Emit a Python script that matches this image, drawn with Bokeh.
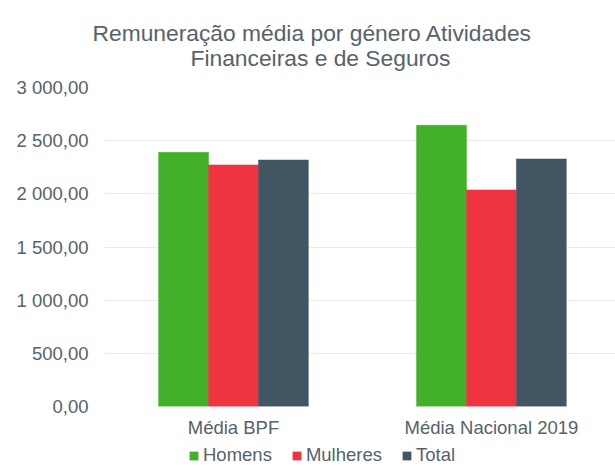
from bokeh.plotting import figure
from bokeh.layouts import column
from bokeh.models import (ColumnDataSource, Range1d, FixedTicker, Legend, LegendItem, Title)
from bokeh.embed import file_html
from bokeh.resources import INLINE

# ---- data ----
categories = ["Média BPF", "Média Nacional 2019"]
series_names = ["Homens", "Mulheres", "Total"]
homens = [2390, 2645]
mulheres = [2272, 2037]
total = [2318, 2328]
y_ticks = [0, 500, 1000, 1500, 2000, 2500, 3000]
title_lines = ["Remuneração média por género Atividades", "Financeiras e de Seguros"]

colors = ["#43b02a", "#ef3340", "#425563"]
text_color = "#56626c"
grid_color = "#e6ebee"
FONT = "Liberation Sans"

def fmt(v):
    return f"{v:,.2f}".replace(",", " ").replace(".", ",")

centers = [i + 0.5 for i in range(len(categories))]
bar_w = 0.1935

p = figure(width=615, height=442, output_backend="svg", toolbar_location=None,
           x_range=Range1d(0, 1.981), y_range=Range1d(0, 3000),
           min_border_left=104, min_border_right=0, min_border_top=87, min_border_bottom=36)
p.outline_line_color = None
p.background_fill_color = "white"
p.border_fill_color = "white"

sources = []
for i, (name, vals) in enumerate(zip(series_names, [homens, mulheres, total])):
    src = ColumnDataSource(dict(x=[c + (i - 1) * bar_w for c in centers], top=vals))
    sources.append(src)
    p.vbar(x="x", top="top", width=bar_w, source=src, fill_color=colors[i],
           line_color=colors[i], line_width=0.5)

# axes
p.xaxis.ticker = FixedTicker(ticks=centers)
p.xaxis.major_label_overrides = {c: cat for c, cat in zip(centers, categories)}
p.yaxis.ticker = FixedTicker(ticks=y_ticks)
p.yaxis.major_label_overrides = {v: fmt(v) for v in y_ticks}
for ax in (p.xaxis[0], p.yaxis[0]):
    ax.axis_line_color = None
    ax.major_tick_line_color = None
    ax.minor_tick_line_color = None
    ax.major_tick_out = 0
    ax.major_tick_in = 0
    ax.major_label_text_font = FONT
    ax.major_label_text_font_size = "18.5px"
    ax.major_label_text_color = text_color
p.yaxis.major_label_standoff = 16
p.xaxis.major_label_standoff = 10
p.xgrid.grid_line_color = None
p.ygrid.grid_line_color = grid_color
p.ygrid.grid_line_width = 1

# two-line title (line nearest the frame added first); left-aligned with offsets
title_font_size = "22.8px"
t2 = Title(text=title_lines[1], align="left", offset=86, standoff=34,
           text_font=FONT, text_font_size=title_font_size, text_font_style="normal",
           text_color=text_color)
t1 = Title(text=title_lines[0], align="left", offset=-12, standoff=-40,
           text_font=FONT, text_font_size=title_font_size, text_font_style="normal",
           text_color=text_color)
p.add_layout(t2, "above")
p.add_layout(t1, "above")

# legend in its own small strip (bars fall outside this strip's visible ranges)
lp = figure(width=615, height=24, output_backend="svg", toolbar_location=None,
            x_range=Range1d(10, 11), y_range=Range1d(10000, 20000),
            x_axis_location=None, y_axis_location=None,
            min_border_left=0, min_border_right=0, min_border_top=0, min_border_bottom=0)
lp.outline_line_color = None
lp.xgrid.visible = False
lp.ygrid.visible = False
items = []
for name, c, src in zip(series_names, colors, sources):
    r = lp.vbar(x="x", top="top", width=bar_w, source=src, fill_color=c, line_color=None)
    items.append(LegendItem(label=name, renderers=[r]))
legend = Legend(items=items, orientation="horizontal", location=(84, 0),
                glyph_width=11, glyph_height=11, label_standoff=4, spacing=19, padding=0,
                label_height=20, margin=0,
                label_text_font=FONT, label_text_font_size="18.5px", label_text_color=text_color,
                border_line_color=None, background_fill_alpha=0)
lp.add_layout(legend)

layout = column(p, lp, spacing=0)
open("out.html", "w").write(file_html(layout, INLINE))
